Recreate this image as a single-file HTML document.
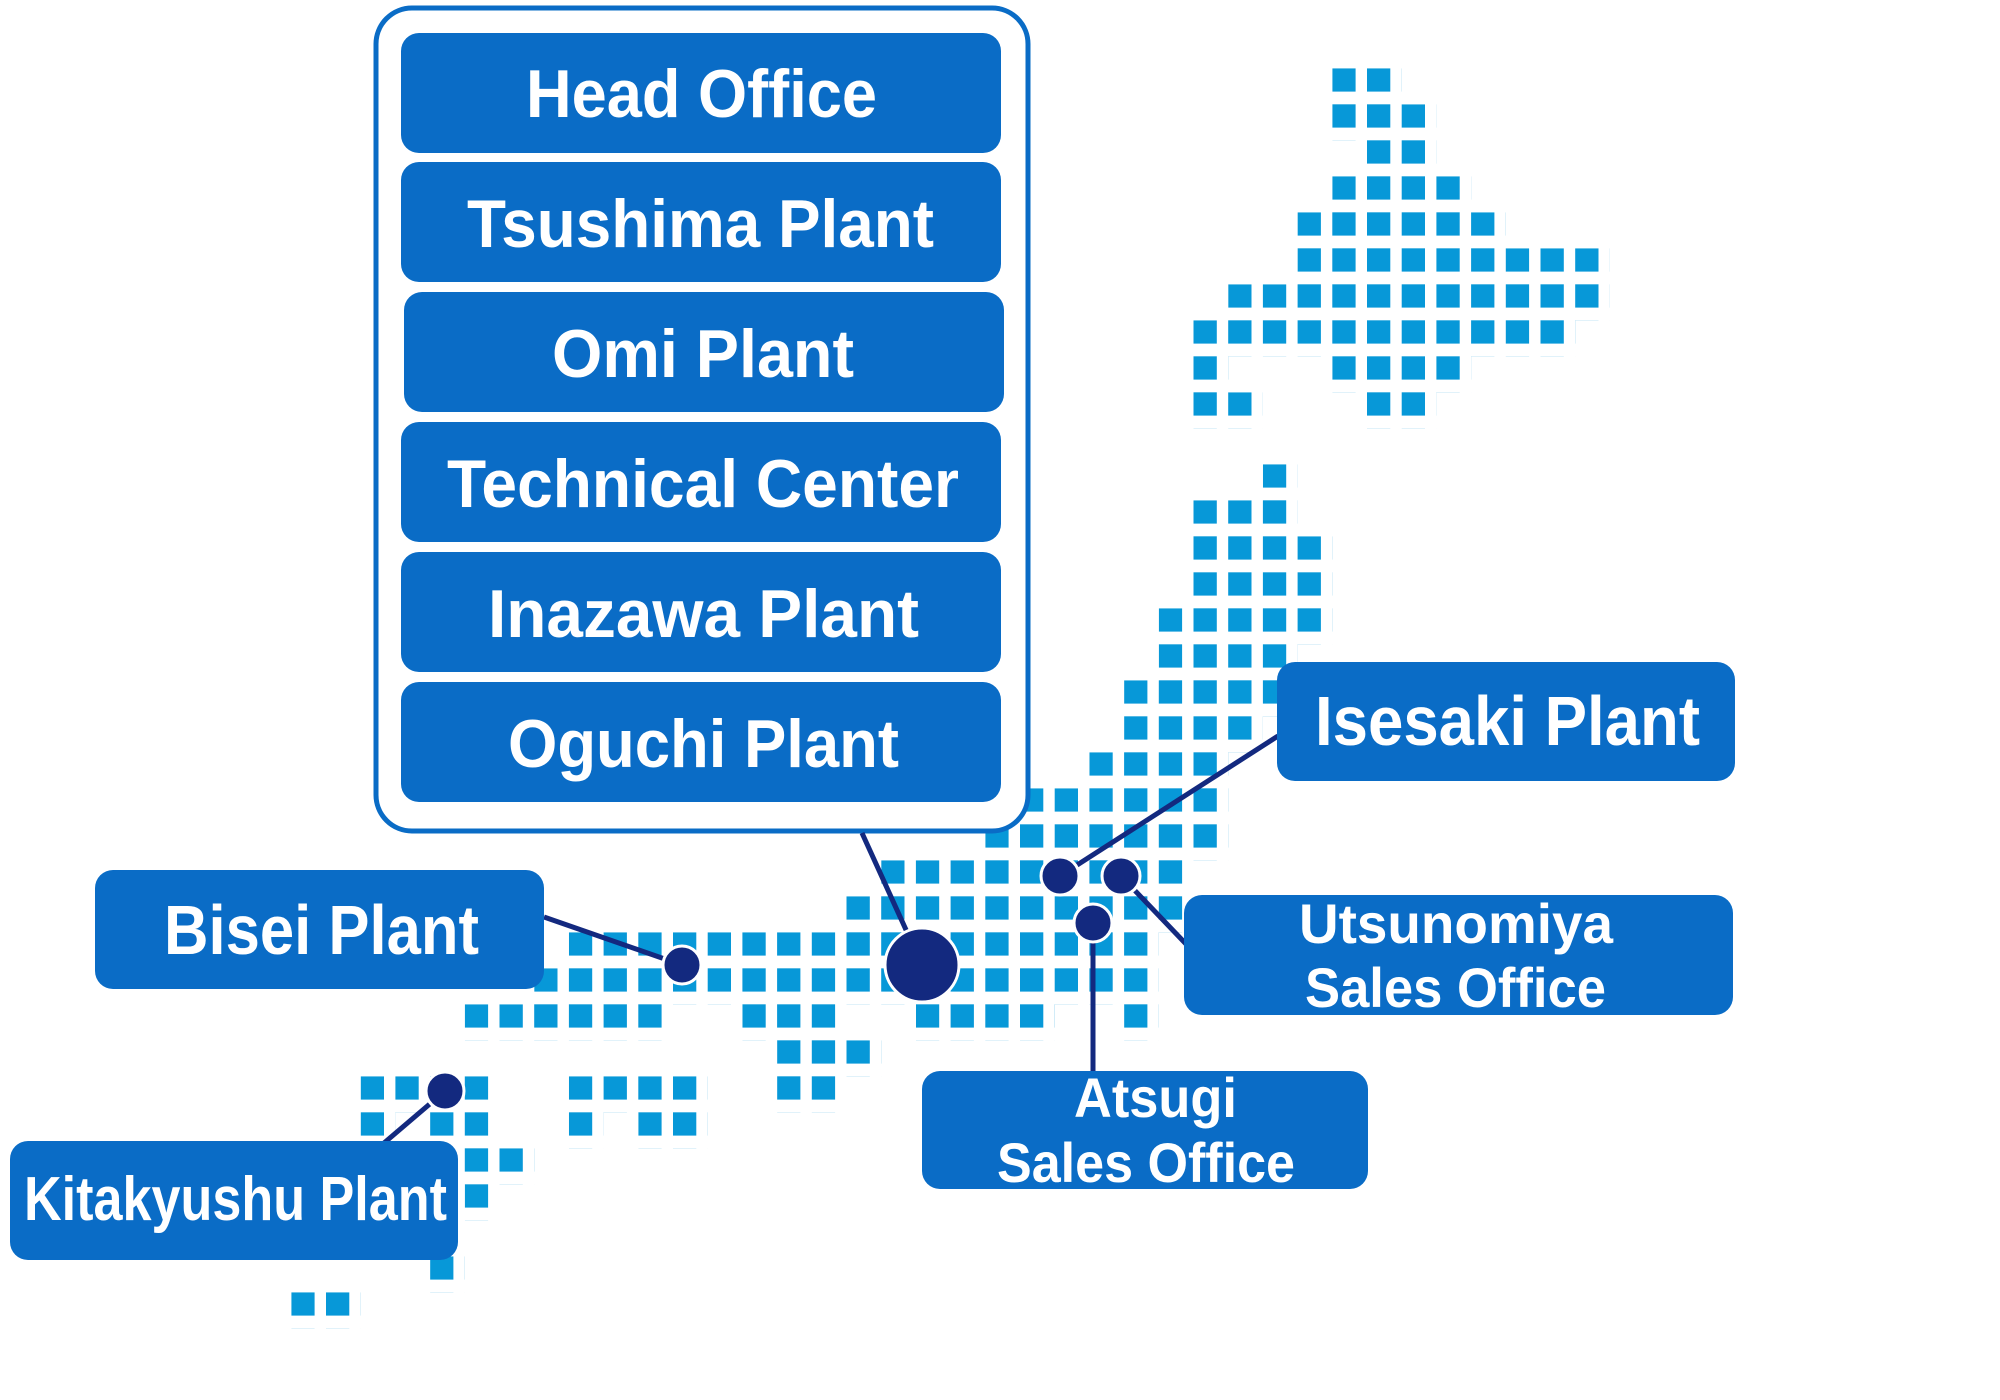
<!DOCTYPE html>
<html><head><meta charset="utf-8"><style>
html,body{margin:0;padding:0;background:#fff;width:2000px;height:1400px;overflow:hidden}
svg{display:block}
text{font-family:"Liberation Sans",sans-serif;font-weight:bold;fill:#fff}
</style></head><body>
<svg width="2000" height="1400" viewBox="0 0 2000 1400" xmlns="http://www.w3.org/2000/svg">
<defs>
<pattern id="sq" patternUnits="userSpaceOnUse" x="1332.3" y="68.3" width="34.7" height="36">
<rect x="0" y="0" width="23.3" height="23.3" fill="#0798d8"/>
</pattern>
</defs>
<g fill="url(#sq)">
<rect x="1332.3" y="68.3" width="69.4" height="36"/>
<rect x="1332.3" y="104.3" width="104.1" height="36"/>
<rect x="1367" y="140.3" width="69.4" height="36"/>
<rect x="1332.3" y="176.3" width="138.8" height="36"/>
<rect x="1297.6" y="212.3" width="208.2" height="36"/>
<rect x="1297.6" y="248.3" width="312.3" height="36"/>
<rect x="1228.2" y="284.3" width="381.7" height="36"/>
<rect x="1193.5" y="320.3" width="381.7" height="36"/>
<rect x="1193.5" y="356.3" width="34.7" height="36"/>
<rect x="1332.3" y="356.3" width="138.8" height="36"/>
<rect x="1193.5" y="392.3" width="69.4" height="36"/>
<rect x="1367" y="392.3" width="69.4" height="36"/>
<rect x="1262.9" y="464.3" width="34.7" height="36"/>
<rect x="1193.5" y="500.3" width="104.1" height="36"/>
<rect x="1193.5" y="536.3" width="138.8" height="36"/>
<rect x="1193.5" y="572.3" width="138.8" height="36"/>
<rect x="1158.8" y="608.3" width="173.5" height="36"/>
<rect x="1158.8" y="644.3" width="138.8" height="36"/>
<rect x="1124.1" y="680.3" width="173.5" height="36"/>
<rect x="1124.1" y="716.3" width="138.8" height="36"/>
<rect x="1089.4" y="752.3" width="138.8" height="36"/>
<rect x="1020" y="788.3" width="208.2" height="36"/>
<rect x="985.3" y="824.3" width="242.9" height="36"/>
<rect x="881.2" y="860.3" width="312.3" height="36"/>
<rect x="846.5" y="896.3" width="347" height="36"/>
<rect x="568.9" y="932.3" width="589.9" height="36"/>
<rect x="534.2" y="968.3" width="624.6" height="36"/>
<rect x="464.8" y="1004.3" width="208.2" height="36"/>
<rect x="742.4" y="1004.3" width="104.1" height="36"/>
<rect x="916" y="1004.3" width="138.8" height="36"/>
<rect x="1124.1" y="1004.3" width="34.7" height="36"/>
<rect x="777.1" y="1040.3" width="104.1" height="36"/>
<rect x="360.7" y="1076.3" width="138.8" height="36"/>
<rect x="568.9" y="1076.3" width="138.8" height="36"/>
<rect x="777.1" y="1076.3" width="69.4" height="36"/>
<rect x="360.7" y="1112.3" width="34.7" height="36"/>
<rect x="430.1" y="1112.3" width="69.4" height="36"/>
<rect x="568.9" y="1112.3" width="34.7" height="36"/>
<rect x="638.3" y="1112.3" width="69.4" height="36"/>
<rect x="430.1" y="1148.3" width="104.1" height="36"/>
<rect x="464.8" y="1184.3" width="34.7" height="36"/>
<rect x="430.1" y="1256.3" width="34.7" height="36"/>
<rect x="291.3" y="1292.3" width="69.4" height="36"/>
</g>

<rect x="376" y="8" width="652" height="823" rx="36" fill="#fff" stroke="#0a6cc6" stroke-width="5"/>
<g fill="#0a6cc6">
<rect x="401" y="33" width="600" height="120" rx="18"/>
<rect x="401" y="162" width="600" height="120" rx="18"/>
<rect x="404" y="292" width="600" height="120" rx="18"/>
<rect x="401" y="422" width="600" height="120" rx="18"/>
<rect x="401" y="552" width="600" height="120" rx="18"/>
<rect x="401" y="682" width="600" height="120" rx="18"/>
</g>
<text x="526" y="117" font-size="68" textLength="351" lengthAdjust="spacingAndGlyphs">Head Office</text>
<text x="467" y="247" font-size="68" textLength="467" lengthAdjust="spacingAndGlyphs">Tsushima Plant</text>
<text x="552" y="377" font-size="68" textLength="302" lengthAdjust="spacingAndGlyphs">Omi Plant</text>
<text x="447" y="507" font-size="68" textLength="512" lengthAdjust="spacingAndGlyphs">Technical Center</text>
<text x="488" y="637" font-size="68" textLength="431" lengthAdjust="spacingAndGlyphs">Inazawa Plant</text>
<text x="508" y="767" font-size="68" textLength="391" lengthAdjust="spacingAndGlyphs">Oguchi Plant</text>

<g stroke="#13297f" stroke-width="5" fill="none">
<line x1="862" y1="833" x2="922" y2="965"/>
<line x1="544" y1="917" x2="682" y2="965"/>
<line x1="1278" y1="736" x2="1060" y2="876"/>
<line x1="1121" y1="876" x2="1186" y2="944"/>
<line x1="1093" y1="923" x2="1093" y2="1073"/>
<line x1="445" y1="1091" x2="384" y2="1143"/>
</g>

<g fill="#0a6cc6">
<rect x="95" y="870" width="449" height="119" rx="18"/>
<rect x="10" y="1141" width="448" height="119" rx="18"/>
<rect x="1277" y="662" width="458" height="119" rx="18"/>
<rect x="1184" y="895" width="549" height="120" rx="18"/>
<rect x="922" y="1071" width="446" height="118" rx="18"/>
</g>
<text x="164" y="954" font-size="70" textLength="315" lengthAdjust="spacingAndGlyphs">Bisei Plant</text>
<text x="24" y="1220" font-size="62" textLength="423" lengthAdjust="spacingAndGlyphs">Kitakyushu Plant</text>
<text x="1315" y="745" font-size="70" textLength="385" lengthAdjust="spacingAndGlyphs">Isesaki Plant</text>
<text x="1299" y="943" font-size="56" textLength="314" lengthAdjust="spacingAndGlyphs">Utsunomiya</text>
<text x="1305" y="1007" font-size="56" textLength="301" lengthAdjust="spacingAndGlyphs">Sales Office</text>
<text x="1074" y="1117" font-size="56" textLength="163" lengthAdjust="spacingAndGlyphs">Atsugi</text>
<text x="997" y="1182" font-size="56" textLength="298" lengthAdjust="spacingAndGlyphs">Sales Office</text>

<g fill="#13297f" stroke="#fff" stroke-width="3">
<circle cx="922" cy="965" r="37"/>
<circle cx="682" cy="965" r="19"/>
<circle cx="1060" cy="876" r="19"/>
<circle cx="1121" cy="876" r="19"/>
<circle cx="1093" cy="923" r="19"/>
<circle cx="445" cy="1091" r="19"/>
</g>
</svg>
</body></html>
